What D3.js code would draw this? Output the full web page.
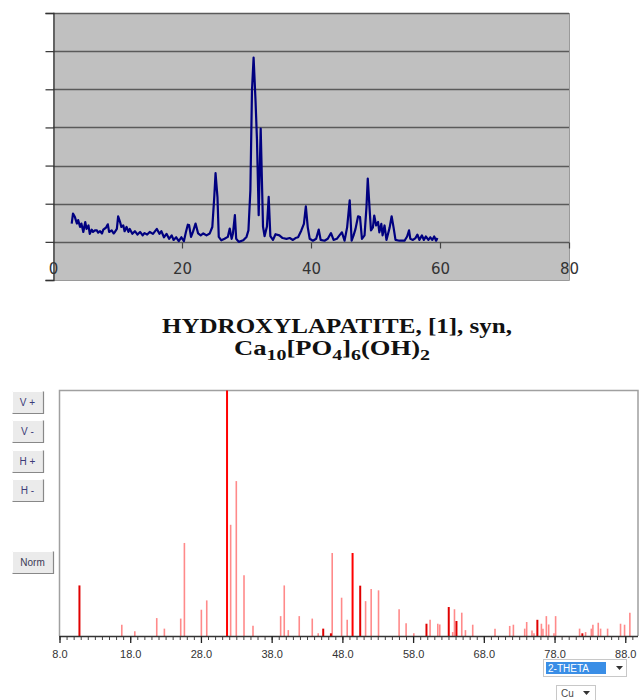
<!DOCTYPE html>
<html>
<head>
<meta charset="utf-8">
<script src="https://cdnjs.cloudflare.com/ajax/libs/d3/7.8.5/d3.min.js"></script>
<style>
  html, body { margin: 0; padding: 0; background: #fff; }
  svg { display: block; }
</style>
</head>
<body>
<svg id="chart" width="639" height="700"></svg>
<script>
// ---------- Data: measured XRD pattern (top chart) ----------
const measuredTwoTheta = [
  2.9, 3.1, 3.4, 3.7, 3.9, 4.2, 4.4, 4.7, 5.0, 5.2, 5.5, 5.7, 6.0, 6.2, 6.5, 6.8, 7.0, 7.3, 7.6, 7.8,
  8.2, 8.5, 8.7, 9.1, 9.4, 9.6, 9.9, 10.1, 10.4, 10.6, 10.9, 11.1, 11.4, 11.7, 11.9, 12.3, 12.7, 13.1,
  13.5, 13.9, 14.2, 14.6, 15.0, 15.5, 16.1, 16.5, 16.8, 17.2, 17.6, 18.0, 18.4, 18.7, 19.1, 19.5, 19.9,
  20.3, 20.6, 20.9, 21.1, 21.4, 21.7, 22.1, 22.5, 22.9, 23.3, 23.8, 24.3, 24.7, 25.0, 25.2, 25.5, 25.7,
  26.1, 26.6, 27.1, 27.4, 27.7, 27.9, 28.2, 28.4, 28.8, 29.5, 30.0, 30.3, 30.6, 30.85, 31.1, 31.4,
  31.62, 31.89, 32.2, 32.56, 32.8, 33.17, 33.44, 33.7, 34.1, 34.5, 35.1, 35.6, 36.2, 36.7, 37.2, 37.6,
  38.0, 38.5, 38.9, 39.2, 39.5, 39.8, 40.3, 40.8, 41.2, 41.5, 42.1, 42.6, 43.1, 43.5, 44.0, 44.5, 44.8,
  45.2, 45.6, 46.0, 46.3, 46.6, 46.9, 47.3, 47.6, 47.9, 48.3, 48.6, 48.8, 49.1, 49.3, 49.6, 49.8, 50.1,
  50.4, 50.6, 50.9, 51.1, 51.4, 51.7, 52.2, 52.5, 52.8, 53.1, 53.7, 54.5, 54.9, 55.2, 55.4, 55.8, 56.2,
  56.5, 56.8, 57.2, 57.5, 57.8, 58.2, 58.5, 58.8, 59.1, 59.4, 59.6
];
const measuredIntensity = [
  48, 74, 65, 48, 57, 39, 48, 26, 52, 34, 43, 21, 32, 26, 30, 30, 24, 28, 22, 32,
  37, 46, 26, 30, 22, 26, 34, 67, 52, 39, 43, 28, 39, 26, 34, 21, 28, 19,
  26, 17, 23, 19, 26, 21, 34, 21, 28, 12, 21, 8, 17, 5, 12, 2, 12,
  2, 25, 45, 44, 13, 26, 48, 22, 17, 22, 17, 22, 39, 117, 180, 117, 13,
  4, 8, 13, 35, 8, 22, 70, 8, 0, 4, 13, 30, 135, 397, 483, 370,
  270, 70, 297, 40, 15, 40, 118, 15, 5, 20, 17, 10, 8, 10, 5, 10,
  12, 30, 47, 93, 38, 8, 3, 8, 32, 5, 3, 8, 23, 5, 8, 19, 25,
  3, 38, 109, 3, 17, 34, 67, 65, 8, 17, 91, 166, 82, 30, 38, 69, 43,
  52, 25, 47, 17, 43, 5, 38, 67, 38, 5, 3, 3, 14, 30, 8, 5, 10,
  19, 5, 17, 5, 14, 5, 12, 5, 14, 3, 10
];
const topXTicks = [0, 20, 40, 60, 80];
const topYTicks = [-100, 0, 100, 200, 300, 400, 500, 600];

// ---------- Data: reference pattern (bottom chart) ----------
const titleLine1 = "HYDROXYLAPATITE, [1], syn,";
const refTwoTheta = [
  10.82, 16.81, 18.65, 21.75, 22.83, 25.14, 25.66, 28.06, 28.82, 31.69, 32.2, 33.0, 34.09, 35.36,
  39.27, 39.78, 40.35, 41.9, 43.74, 44.58, 45.29, 46.38, 46.56, 47.89, 48.68, 49.44, 50.52, 51.28,
  52.07, 53.11, 56.02, 57.01, 58.1, 59.89, 60.4, 61.49, 61.77, 63.04, 63.6, 63.85, 64.13, 64.88,
  65.4, 66.43, 69.58, 71.66, 72.18, 73.78, 74.06, 74.81, 75.09, 75.57, 76.14, 76.36, 76.84, 77.17,
  77.92, 78.15, 81.54, 81.93, 82.39, 83.2, 83.42, 84.18, 84.51, 85.5, 87.33, 87.9, 88.65
];
const refIntensity = [
  20.6, 4.6, 1.9, 7.3, 3.0, 7.1, 37.9, 10.7, 14.5, 100, 45.3, 63.1, 24.7, 4.2,
  8.1, 20.6, 2.4, 8.1, 7.1, 1.1, 3.0, 1.1, 33.8, 15.6, 6.6, 33.8, 20.5, 14.2,
  19.1, 18.6, 10.9, 5.2, 1.1, 5.0, 6.6, 5.0, 4.7, 11.8, 1.6, 10.9, 6.1, 9.5,
  2.4, 4.6, 3.0, 4.1, 4.6, 3.0, 5.7, 2.2, 1.1, 6.6, 5.0, 3.0, 8.1, 4.7,
  1.1, 8.1, 3.0, 1.1, 1.6, 3.0, 4.6, 5.4, 3.0, 3.0, 5.0, 4.6, 9.5
];
// lines drawn as "selected" (solid) in the viewer
const refSelected = [10.82, 45.29, 46.38, 50.52, 59.89, 63.04, 64.13, 75.57, 81.93];
const refStrongest = [31.69, 49.44];
const refMajorTicks = [8, 18, 28, 38, 48, 58, 68, 78, 88];
const viewerButtons = ["V +", "V -", "H +", "H -", "Norm"];

// ---------- Drawing ----------
const svg = d3.select("#chart");
svg.append("rect").attr("width", 639).attr("height", 700).attr("fill", "#fff");

// === Top chart ===
const tL = 53, tR = 569, tT = 13, tB = 280;
const xTop = d3.scaleLinear().domain([0, 80]).range([tL, tR]);
const yTop = d3.scaleLinear().domain([-100, 600]).range([tB, tT]);

const topG = svg.append("g");
topG.append("rect").attr("x", tL).attr("y", tT).attr("width", tR - tL).attr("height", tB - tT)
  .attr("fill", "#c0c0c0");
topG.selectAll("line.grid").data(topYTicks.filter(d => d >= 0)).join("line")
  .attr("x1", tL).attr("x2", tR)
  .attr("y1", d => Math.round(yTop(d)) + 0.5).attr("y2", d => Math.round(yTop(d)) + 0.5)
  .attr("stroke", "#5a5a5a").attr("stroke-width", 1.3);
topG.append("path")
  .attr("d", `M${tR + 0.5},${tT} V${tB + 0.5} H${tL}`)
  .attr("fill", "none").attr("stroke", "#9a9a9a").attr("stroke-width", 1);
const yAxisTop = d3.axisLeft(yTop).tickValues(topYTicks).tickSize(8).tickFormat("");
topG.append("g").attr("transform", `translate(${tL + 0.5},0)`).call(yAxisTop)
  .call(g => g.selectAll("line").attr("stroke", "#333").attr("stroke-width", 1.2))
  .call(g => g.select(".domain").attr("stroke", "#333").attr("stroke-width", 1.3));
const xAxisTop = d3.axisBottom(xTop).tickValues(topXTicks).tickSize(6).tickPadding(15)
  .tickFormat(d3.format("d"));
topG.append("g").attr("transform", `translate(0,${Math.round(yTop(0)) + 0.5})`).call(xAxisTop)
  .call(g => g.select(".domain").remove())
  .call(g => g.selectAll("line").attr("stroke", "#444").attr("stroke-width", 1.2)
    .filter(d => d === 0).remove())
  .call(g => g.selectAll("text").attr("font-family", "DejaVu Sans, sans-serif")
    .attr("font-size", 15).attr("fill", "#333"));
const measured = measuredTwoTheta.map((t, i) => ({ t, v: measuredIntensity[i] }));
topG.append("path").datum(measured)
  .attr("d", d3.line().x(d => xTop(d.t)).y(d => yTop(d.v)))
  .attr("fill", "none").attr("stroke", "#000080").attr("stroke-width", 2.2)
  .attr("stroke-linejoin", "round");

// === Title ===
const title = svg.append("g").attr("font-family", "Liberation Serif, Times New Roman, serif")
  .attr("font-weight", "bold").attr("fill", "#111");
title.append("text").attr("x", 337).attr("y", 333).attr("text-anchor", "middle")
  .attr("font-size", 20).attr("textLength", 350).attr("lengthAdjust", "spacingAndGlyphs")
  .text(titleLine1);
const t2 = title.append("text").attr("x", 332).attr("y", 355).attr("text-anchor", "middle")
  .attr("font-size", 20).attr("textLength", 196).attr("lengthAdjust", "spacingAndGlyphs");
const formula = [["Ca", false], ["10", true], ["[PO", false], ["4", true], ["]", false], ["6", true], ["(OH)", false], ["2", true]];
formula.forEach(([s, sub], i) => {
  const prevSub = i > 0 && formula[i - 1][1];
  const dy = sub && !prevSub ? 5 : (!sub && prevSub ? -5 : 0);
  t2.append("tspan").attr("dy", dy).attr("font-size", sub ? 15 : 20).text(s);
});

// === Bottom chart ===
const bL = 59.5, bR = 638, bT = 390.5, bB = 636;
const xRef = d3.scaleLinear().domain([8, 89.8]).range([bL, bR]);
const yRef = d3.scaleLinear().domain([0, 100]).range([bB, bT]);
const bot = svg.append("g");
bot.append("path").attr("d", `M${bL},${bB} V${bT} H${bR} V${bB}`)
  .attr("fill", "none").attr("stroke", "#a0a0a0").attr("stroke-width", 1.5);

const refs = refTwoTheta.map((t, i) => ({
  t, v: refIntensity[i],
  kind: refStrongest.includes(t) ? 2 : (refSelected.includes(t) ? 1 : 0)
}));
bot.selectAll("line.bar").data(refs.filter(d => d.kind === 0)).join("line")
  .attr("x1", d => xRef(d.t)).attr("x2", d => xRef(d.t))
  .attr("y1", yRef(0)).attr("y2", d => yRef(d.v))
  .attr("stroke", "#ff8a8a").attr("stroke-width", 1.6);
bot.selectAll("line.sel").data(refs.filter(d => d.kind > 0)).join("line")
  .attr("x1", d => xRef(d.t)).attr("x2", d => xRef(d.t))
  .attr("y1", yRef(0)).attr("y2", d => yRef(d.v))
  .attr("stroke", d => d.kind === 2 ? "#ff0000" : "#e00000").attr("stroke-width", 2);

const minorTicks = d3.range(8, 90, 1);
bot.append("g").attr("transform", `translate(0,${bB})`)
  .call(d3.axisBottom(xRef).tickValues(minorTicks).tickSize(4).tickFormat(""))
  .call(g => g.select(".domain").remove())
  .call(g => g.selectAll("line").attr("stroke", "#444"));
bot.append("g").attr("transform", `translate(0,${bB})`)
  .call(d3.axisBottom(xRef).tickValues(refMajorTicks).tickSize(7).tickPadding(7)
    .tickFormat(d3.format(".1f")))
  .call(g => g.select(".domain").attr("d", `M${bL},0.5H${bR}`).attr("stroke", "#333").attr("stroke-width", 1.3))
  .call(g => g.selectAll("line").attr("stroke", "#222").attr("stroke-width", 1.3))
  .call(g => g.selectAll("text").attr("font-family", "Liberation Sans, Arial, sans-serif")
    .attr("font-size", 11).attr("fill", "#333"));

const btnBoxes = [
  { y: 391, w: 31 }, { y: 420, w: 31 }, { y: 450, w: 31 }, { y: 479, w: 31 }, { y: 551, w: 41 }
];
const btns = svg.append("g");
viewerButtons.forEach((label, i) => {
  const b = btnBoxes[i];
  const g = btns.append("g").attr("transform", `translate(12,${b.y})`);
  g.append("rect").attr("width", b.w).attr("height", 22).attr("fill", "#ebebeb");
  g.append("path").attr("d", `M0.5,21.5 V0.5 H${b.w - 0.5}`).attr("fill", "none").attr("stroke", "#fff");
  g.append("path").attr("d", `M0.5,22.5 H${b.w + 0.5} V0.5`).attr("fill", "none").attr("stroke", "#888").attr("stroke-width", 1.2);
  g.append("text").attr("x", b.w / 2).attr("y", 15).attr("text-anchor", "middle")
    .attr("font-family", "Liberation Sans, Arial, sans-serif").attr("font-size", 10)
    .attr("fill", i === 4 ? "#3a3a55" : "#3c3c78").text(label);
});

const dd = svg.append("g").attr("font-family", "Liberation Sans, Arial, sans-serif").attr("font-size", 10);
dd.append("rect").attr("x", 543.5).attr("y", 659.5).attr("width", 83).attr("height", 17)
  .attr("fill", "#fff").attr("stroke", "#c8c8c8");
dd.append("rect").attr("x", 546).attr("y", 662).attr("width", 60).attr("height", 12).attr("fill", "#3a8ee6");
dd.append("text").attr("x", 548).attr("y", 672).attr("fill", "#fff").text("2-THETA");
dd.append("path").attr("d", "M616,666 h7 l-3.5,4 z").attr("fill", "#333");
dd.append("rect").attr("x", 556.5).attr("y", 685.5).attr("width", 39).attr("height", 15)
  .attr("fill", "#fff").attr("stroke", "#c8c8c8");
dd.append("text").attr("x", 561).attr("y", 697).attr("fill", "#4a4a4a").text("Cu");
dd.append("path").attr("d", "M583,691 h7 l-3.5,4 z").attr("fill", "#333");
</script>
</body>
</html>
